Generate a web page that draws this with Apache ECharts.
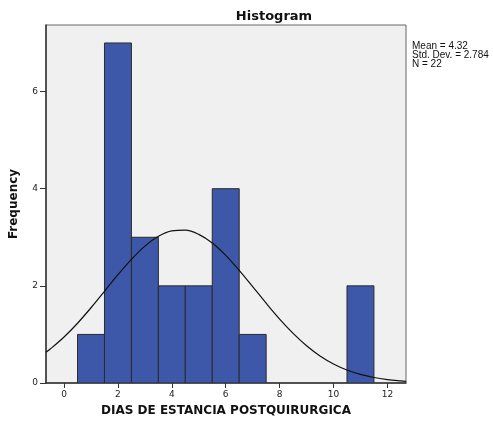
<!DOCTYPE html>
<html><head><meta charset="utf-8">
<script src="https://cdn.jsdelivr.net/npm/echarts@6/dist/echarts.min.js"></script>
<style>html,body{margin:0;padding:0;background:#fff}#c{width:493px;height:423px}</style>
</head><body><div id="c"></div>
<script>
var binCenters = [1, 2, 3, 4, 5, 6, 7, 11];
var frequencies = [1, 7, 3, 2, 2, 4, 1, 2];
var binWidth = 1;
var curveX = [-0.67, -0.5, 0, 0.5, 1, 1.5, 2, 2.5, 3, 3.5, 4, 4.5, 5, 5.5, 6, 6.5, 7, 7.5, 8, 8.5, 9, 9.5, 10, 10.5, 11, 11.5, 12, 12.5, 12.69];
var curveY = [0.633, 0.704, 0.946, 1.230, 1.549, 1.888, 2.229, 2.546, 2.818, 3.019, 3.132, 3.146, 3.060, 2.882, 2.628, 2.320, 1.984, 1.642, 1.316, 1.022, 0.768, 0.558, 0.393, 0.268, 0.177, 0.113, 0.070, 0.042, 0.034];
var xTicks = [0, 2, 4, 6, 8, 10, 12];
var yTicks = [0, 2, 4, 6];
var statLines = ['Mean = 4.32', 'Std. Dev. = 2.784', 'N = 22'];

var barData = binCenters.map(function (c, i) { return [c, frequencies[i]]; });
var curveData = curveX.map(function (x, i) { return [x, curveY[i]]; });

var chart = echarts.init(document.getElementById('c'), null, {renderer: 'canvas'});
chart.setOption({
  animation: false,
  backgroundColor: '#fff',
  title: {
    text: 'Histogram', left: 269, top: 5, textAlign: 'center',
    textStyle: {fontFamily: 'DejaVu Sans', fontSize: 13, fontWeight: 'bold', color: '#111'}
  },
  graphic: [{
    type: 'text', left: 412, top: 41,
    style: {text: statLines.join('\n'), font: '10px "Liberation Sans"', fill: '#111', lineHeight: 9}
  }],
  grid: {
    left: 42, right: 87, top: 25, bottom: 40, show: true,
    backgroundColor: '#f0f0f0', borderColor: '#666', borderWidth: 1
  },
  xAxis: {
    type: 'value', min: -0.67, max: 12.69,
    name: 'DIAS DE ESTANCIA POSTQUIRURGICA', nameLocation: 'middle', nameGap: 22,
    nameTextStyle: {fontFamily: 'DejaVu Sans', fontSize: 12, fontWeight: 'bold', color: '#111'},
    splitLine: {show: false},
    axisLine: {onZero: false, lineStyle: {color: '#333', width: 1.5}},
    axisTick: {show: true, inside: false, length: 5, customValues: xTicks, lineStyle: {color: '#333'}},
    axisLabel: {customValues: xTicks, fontFamily: 'DejaVu Sans', fontSize: 9, color: '#222', margin: 7}
  },
  yAxis: {
    type: 'value', min: 0, max: 7.37,
    name: 'Frequency', nameLocation: 'middle', nameGap: 26, nameRotate: 90,
    nameTextStyle: {fontFamily: 'DejaVu Sans', fontSize: 12, fontWeight: 'bold', color: '#111'},
    splitLine: {show: false},
    axisLine: {show: true, onZero: false, lineStyle: {color: '#333', width: 1.5}},
    axisTick: {show: true, inside: false, length: 6, customValues: yTicks, lineStyle: {color: '#333'}},
    axisLabel: {customValues: yTicks, fontFamily: 'DejaVu Sans', fontSize: 9, color: '#222', margin: 8}
  },
  series: [{
    type: 'custom',
    data: barData,
    clip: true,
    renderItem: function (params, api) {
      var c = api.value(0), f = api.value(1);
      var p1 = api.coord([c - binWidth / 2, f]);
      var p2 = api.coord([c + binWidth / 2, 0]);
      return {
        type: 'rect',
        shape: {x: p1[0], y: p1[1], width: p2[0] - p1[0], height: p2[1] - p1[1]},
        style: {fill: '#3e58a9', stroke: '#2b2b2b', lineWidth: 1}
      };
    }
  }, {
    type: 'line', data: curveData, smooth: 0.35, showSymbol: false, symbol: 'none',
    clip: true,
    lineStyle: {color: '#111', width: 1.2}
  }]
});
</script></body></html>
